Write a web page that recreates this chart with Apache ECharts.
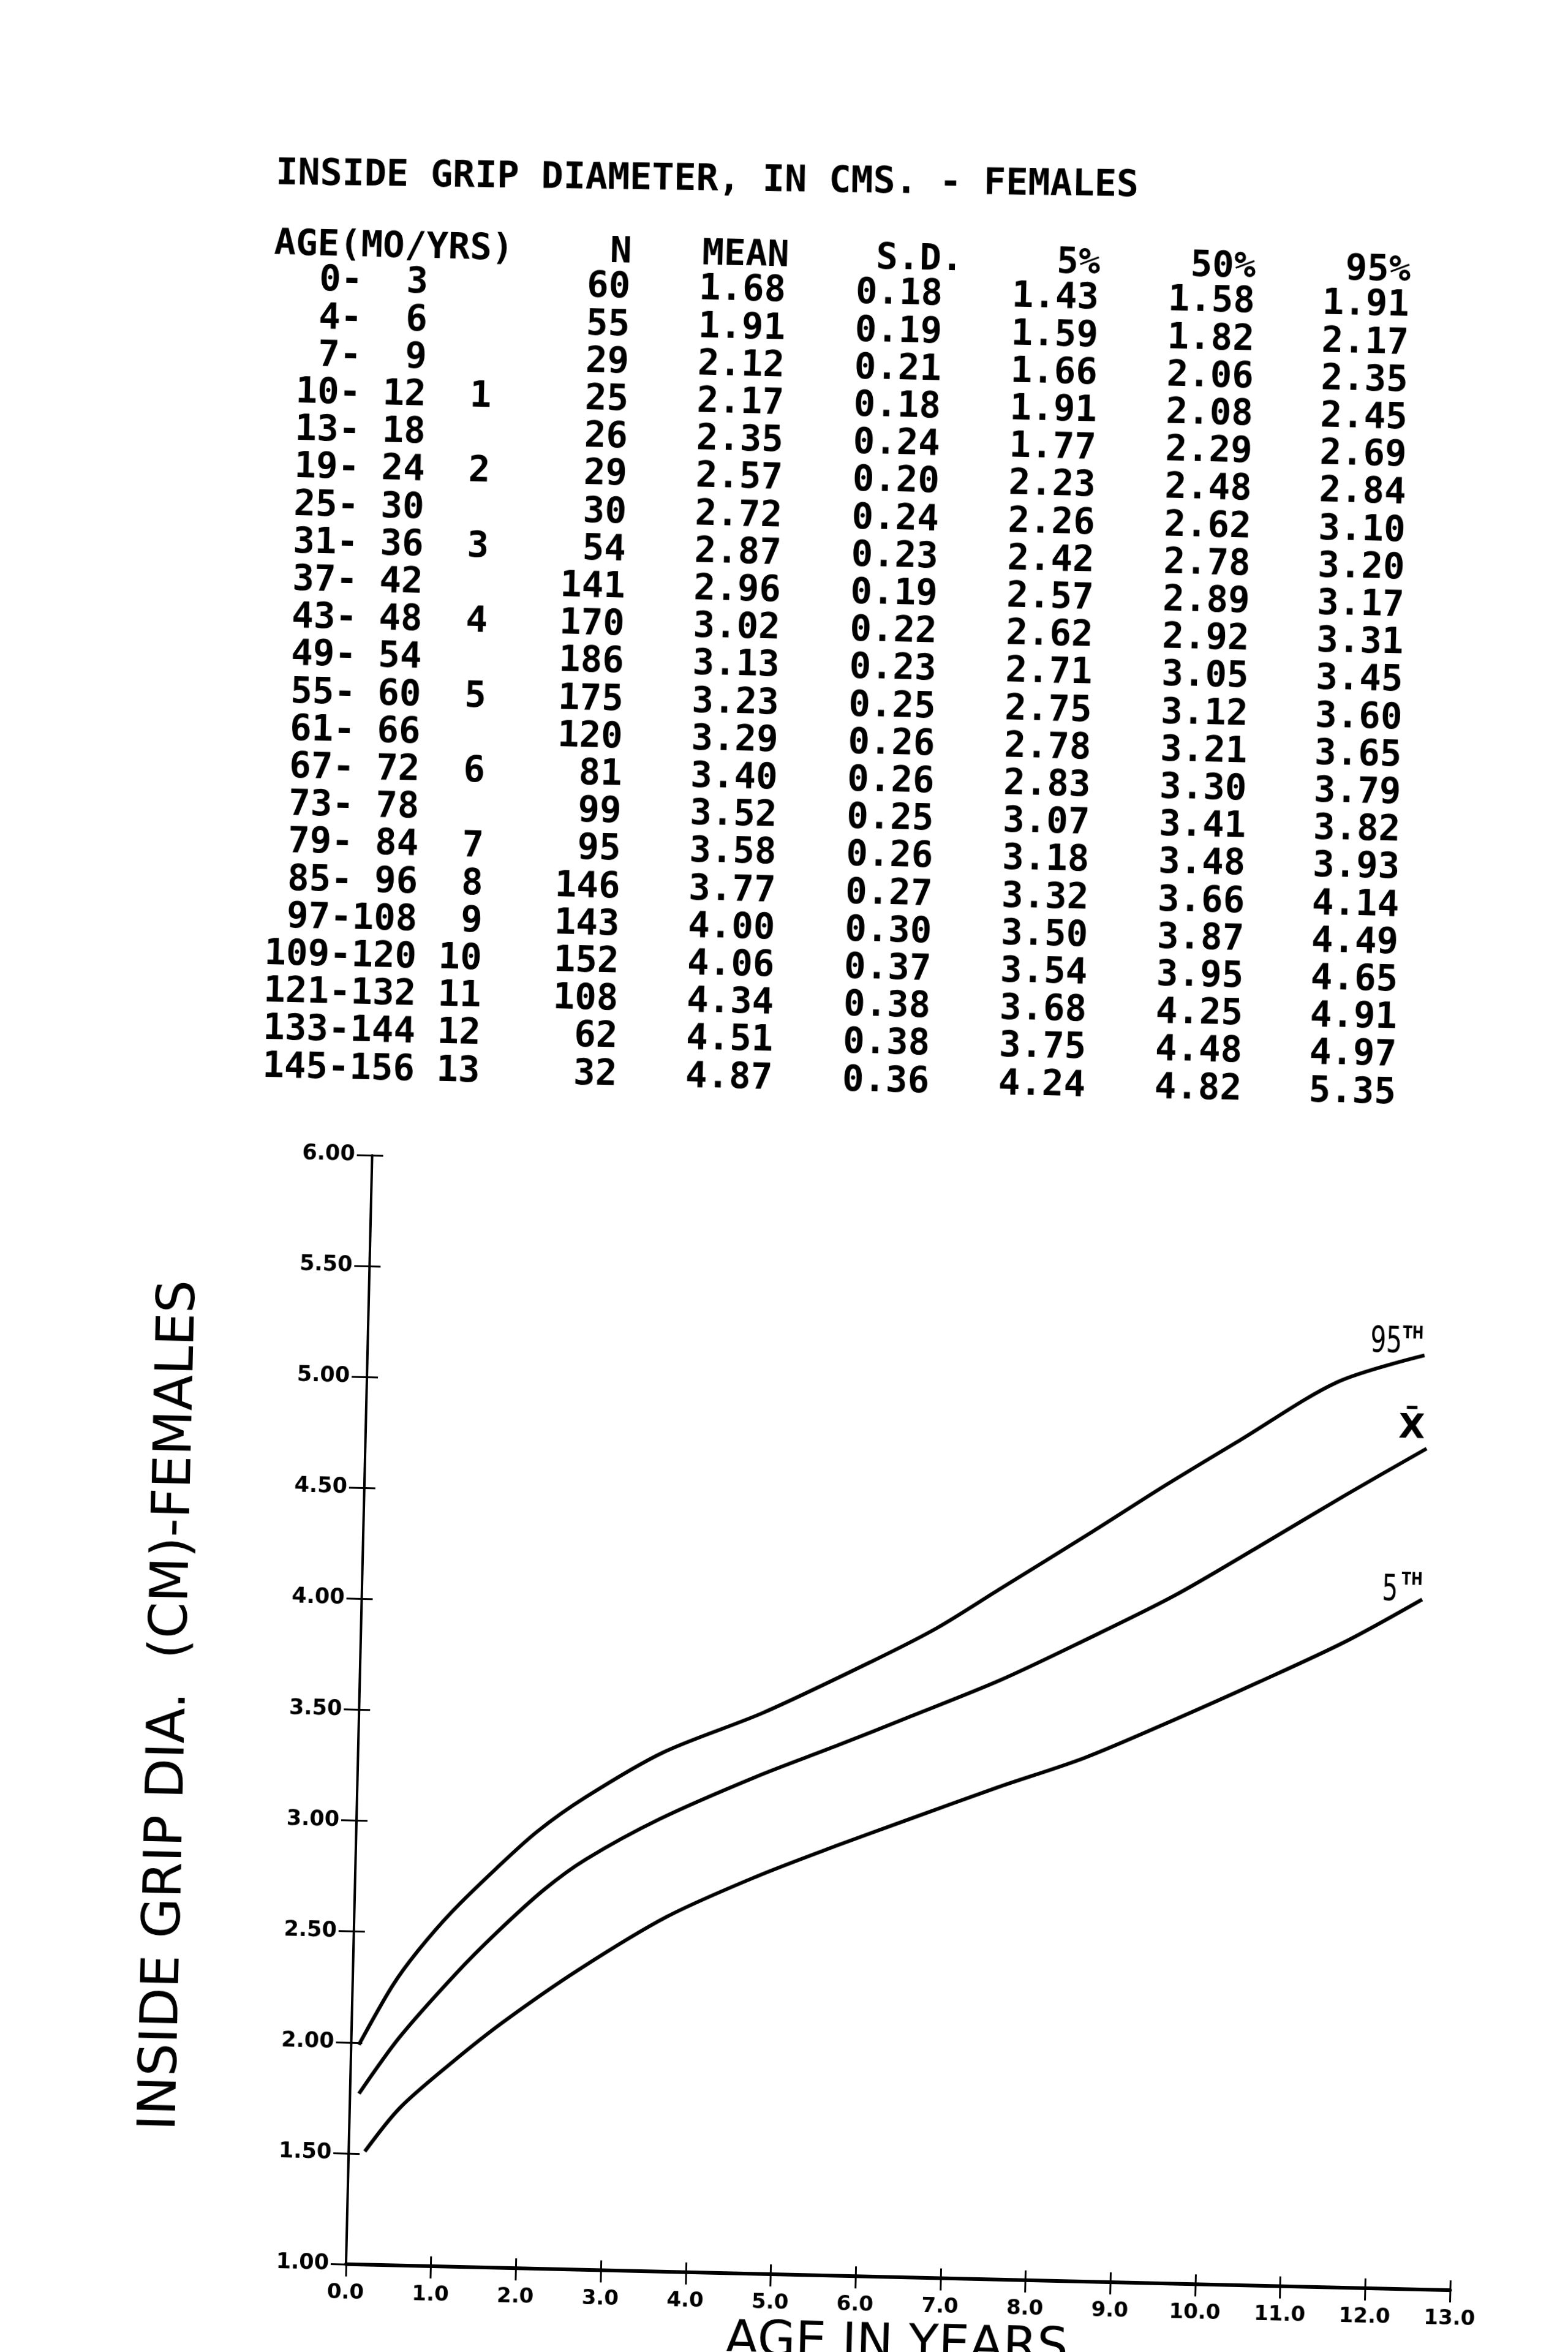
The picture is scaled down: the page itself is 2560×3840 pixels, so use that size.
<!DOCTYPE html>
<html>
<head>
<meta charset="utf-8">
<title>Inside grip diameter - females</title>
<script src="https://cdn.jsdelivr.net/npm/echarts@6/dist/echarts.min.js"></script>
<style>
  html, body {
    margin: 0;
    padding: 0;
    background: #fff;
    overflow: hidden;
  }
  #page {
    width: 2560px;
    height: 3840px;
    /* the scanned sheet is a little askew */
    transform: rotate(1.35deg);
    transform-origin: 1280px 1920px;
  }
</style>
</head>
<body>
<div id="page"></div>
<script>
// table rows: age group in months, year mark, N, mean, s.d., percentiles
const ageFrom = [0, 4, 7, 10, 13, 19, 25, 31, 37, 43, 49, 55, 61, 67, 73, 79, 85, 97, 109, 121, 133, 145]
const ageTo = [3, 6, 9, 12, 18, 24, 30, 36, 42, 48, 54, 60, 66, 72, 78, 84, 96, 108, 120, 132, 144, 156]
const ageYear = ['', '', '', 1, '', 2, '', 3, '', 4, '', 5, '', 6, '', 7, 8, 9, 10, 11, 12, 13]
const nCount = [60, 55, 29, 25, 26, 29, 30, 54, 141, 170, 186, 175, 120, 81, 99, 95, 146, 143, 152, 108, 62, 32]
const meanVal = [1.68, 1.91, 2.12, 2.17, 2.35, 2.57, 2.72, 2.87, 2.96, 3.02, 3.13, 3.23, 3.29, 3.40, 3.52, 3.58, 3.77, 4.00, 4.06, 4.34, 4.51, 4.87]
const sdVal = [0.18, 0.19, 0.21, 0.18, 0.24, 0.20, 0.24, 0.23, 0.19, 0.22, 0.23, 0.25, 0.26, 0.26, 0.25, 0.26, 0.27, 0.30, 0.37, 0.38, 0.38, 0.36]
const p5Val = [1.43, 1.59, 1.66, 1.91, 1.77, 2.23, 2.26, 2.42, 2.57, 2.62, 2.71, 2.75, 2.78, 2.83, 3.07, 3.18, 3.32, 3.50, 3.54, 3.68, 3.75, 4.24]
const p50Val = [1.58, 1.82, 2.06, 2.08, 2.29, 2.48, 2.62, 2.78, 2.89, 2.92, 3.05, 3.12, 3.21, 3.30, 3.41, 3.48, 3.66, 3.87, 3.95, 4.25, 4.48, 4.82]
const p95Val = [1.91, 2.17, 2.35, 2.45, 2.69, 2.84, 3.10, 3.20, 3.17, 3.31, 3.45, 3.60, 3.65, 3.79, 3.82, 3.93, 4.14, 4.49, 4.65, 4.91, 4.97, 5.35]

// curves: [age in years, diameter in cm]
const curve95 = [[0.09, 1.99], [0.47, 2.26], [0.76, 2.42], [1.15, 2.60], [1.66, 2.80], [2.13, 2.97], [2.69, 3.13], [3.59, 3.34], [4.76, 3.53], [6.06, 3.78], [6.78, 3.93], [7.50, 4.11], [8.58, 4.38], [9.44, 4.60], [10.30, 4.81], [11.42, 5.08], [12.44, 5.21]]
const curveMean = [[0.105, 1.77], [0.57, 2.03], [1.21, 2.32], [1.68, 2.51], [2.23, 2.71], [2.71, 2.85], [3.57, 3.04], [4.69, 3.24], [5.64, 3.39], [6.44, 3.52], [7.53, 3.70], [8.52, 3.89], [9.56, 4.10], [10.54, 4.33], [11.54, 4.57], [12.49, 4.79]]
const curve5 = [[0.19, 1.51], [0.59, 1.71], [1.19, 1.92], [1.79, 2.11], [2.65, 2.35], [3.68, 2.60], [4.72, 2.79], [5.67, 2.94], [6.47, 3.06], [7.55, 3.22], [8.55, 3.36], [9.59, 3.54], [10.58, 3.72], [11.58, 3.91], [12.48, 4.11]]

// axis ticks
const xTicks = [0, 1, 2, 3, 4, 5, 6, 7, 8, 9, 10, 11, 12, 13]
const yTicks = [1, 1.5, 2, 2.5, 3, 3.5, 4, 4.5, 5, 5.5, 6]

const mono = '"DejaVu Sans Mono", "Liberation Mono", monospace'
const sans = '"DejaVu Sans", "Liberation Sans", sans-serif'

let myChart = echarts.init(document.getElementById('page'))

// printed table, drawn as plain text
function cell(text, x, y, align, size) {
  return {
    type: 'text',
    x: x,
    y: y,
    style: {
      text: text,
      align: align,
      verticalAlign: 'middle',
      fontSize: size || 59,
      fontWeight: 'bold',
      fontFamily: mono,
      fill: '#000'
    }
  }
}

function pad(v, n) {
  let s = String(v)
  while (s.length < n) s = ' ' + s
  return s
}

function tableGraphic() {
  let items = []
  let title = cell('INSIDE GRIP DIAMETER, IN CMS. - FEMALES', 412, 305, 'left', 60)
  title.rotation = 0.0096
  items.push(title)
  // header
  let headY = 420
  items.push(cell('AGE(MO/YRS)', 412, headY, 'left'))
  items.push(cell('N', 996, headY, 'right'))
  items.push(cell('MEAN', 1253, headY, 'right'))
  items.push(cell('S.D.', 1537, headY, 'right'))
  items.push(cell('5%', 1761, headY, 'right'))
  items.push(cell('50%', 2015, headY, 'right'))
  items.push(cell('95%', 2268, headY, 'right'))
  // body
  for (let i = 0; i < ageFrom.length; i++) {
    let y = 477 + i * 61.2
    let d = i * 0.4
    let age = pad(ageFrom[i], 3) + '-' + pad(ageTo[i], 3) + ' ' + pad(ageYear[i], 2)
    items.push(cell(age, 416 + d, y, 'left'))
    items.push(cell(String(nCount[i]), 995 + d, y, 'right'))
    items.push(cell(meanVal[i].toFixed(2), 1249 + d, y, 'right'))
    items.push(cell(sdVal[i].toFixed(2), 1505 + d, y, 'right'))
    items.push(cell(p5Val[i].toFixed(2), 1760 + d, y, 'right'))
    items.push(cell(p50Val[i].toFixed(2), 2015 + d, y, 'right'))
    items.push(cell(p95Val[i].toFixed(2), 2267 + d, y, 'right'))
  }
  return items
}

function curveSeries(name, data) {
  return {
    name: name,
    type: 'line',
    data: data,
    smooth: 0.3,
    showSymbol: false,
    lineStyle: {
      color: '#000',
      width: 6
    }
  }
}

let tickStyle = { color: '#000', width: 3 }

let option = {
  animation: false,
  backgroundColor: '#fff',
  grid: {
    left: 607,
    top: 1902,
    width: 1803,
    height: 1811,
    outerBoundsMode: 'none',
    containLabel: false
  },
  xAxis: [
    {
      type: 'value',
      position: 'bottom',
      min: xTicks[0],
      max: xTicks[xTicks.length - 1],
      interval: xTicks[1] - xTicks[0],
      name: 'AGE IN YEARS',
      nameLocation: 'middle',
      nameGap: 72,
      nameTextStyle: {
        fontSize: 80,
        fontFamily: sans,
        color: '#000'
      },
      axisLine: { lineStyle: { color: '#000', width: 6 } },
      axisTick: { length: 20, lineStyle: tickStyle },
      axisLabel: {
        margin: 30,
        fontSize: 34,
        fontWeight: 'bold',
        fontFamily: sans,
        color: '#000',
        showMinLabel: true,
        showMaxLabel: true,
        formatter: v => v.toFixed(1)
      },
      splitLine: { show: false }
    },
    {
      // second copy only for the ticks that poke into the plot
      type: 'value',
      position: 'bottom',
      min: xTicks[0],
      max: xTicks[xTicks.length - 1],
      interval: xTicks[1] - xTicks[0],
      axisLine: { show: false },
      axisTick: { inside: true, length: 16, lineStyle: tickStyle },
      axisLabel: { show: false },
      splitLine: { show: false }
    }
  ],
  yAxis: [
    {
      type: 'value',
      position: 'left',
      min: yTicks[0],
      max: yTicks[yTicks.length - 1],
      interval: yTicks[1] - yTicks[0],
      name: 'INSIDE GRIP DIA.  (CM)-FEMALES',
      nameLocation: 'middle',
      nameRotate: 90,
      nameGap: 265,
      nameTextStyle: {
        fontSize: 85,
        fontFamily: sans,
        color: '#000'
      },
      axisLine: { lineStyle: { color: '#000', width: 4 } },
      axisTick: { length: 25, lineStyle: tickStyle },
      axisLabel: {
        margin: 28,
        fontSize: 35,
        fontWeight: 'bold',
        fontFamily: sans,
        color: '#000',
        showMinLabel: true,
        showMaxLabel: true,
        formatter: v => v.toFixed(2)
      },
      splitLine: { show: false }
    },
    {
      type: 'value',
      position: 'left',
      min: yTicks[0],
      max: yTicks[yTicks.length - 1],
      interval: yTicks[1] - yTicks[0],
      axisLine: { show: false },
      axisTick: { inside: true, length: 18, lineStyle: tickStyle },
      axisLabel: { show: false },
      splitLine: { show: false }
    }
  ],
  series: [
    curveSeries('95TH', curve95),
    curveSeries('MEAN', curveMean),
    curveSeries('5TH', curve5)
  ]
}

myChart.setOption(option)

// curve names written just above the line ends
function endText(curve, text, dx, dy, size, weight, sx) {
  let p = myChart.convertToPixel({ gridIndex: 0 }, curve[curve.length - 1])
  return {
    type: 'text',
    x: p[0] + dx,
    y: p[1] + dy,
    scaleX: sx,
    style: {
      text: text,
      align: 'center',
      verticalAlign: 'middle',
      fontSize: size,
      fontWeight: weight,
      fontFamily: sans,
      fill: '#000'
    }
  }
}

let labels = [
  endText(curve95, '95', -63, -19, 58, 'normal', 0.7),
  endText(curve95, 'TH', -19, -34, 28, 'bold', 0.8),
  endText(curveMean, 'X\u0304', -25, -32, 56, 'bold', 1),
  endText(curve5, '5', -53, -13, 58, 'normal', 0.7),
  endText(curve5, 'TH', -17, -31, 28, 'bold', 0.8)
]

myChart.setOption({
  graphic: tableGraphic().concat(labels)
})
</script>
</body>
</html>
